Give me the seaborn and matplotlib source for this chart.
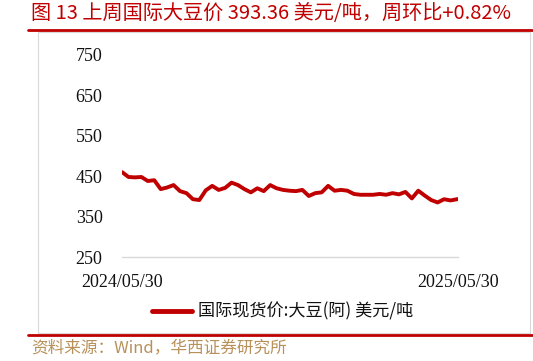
import numpy as np
import pandas as pd
import seaborn as sns
import matplotlib.pyplot as plt
from matplotlib.lines import Line2D
from matplotlib.patches import Rectangle

# weekly readings, 2024/05/30 -> 2025/05/30 (USD/t)
dates = pd.date_range("2024-05-30", periods=53, freq="7D")
prices = [460, 448, 447, 448, 438, 440, 418, 422, 428, 413,
          408, 393, 391, 415, 426, 416, 421, 434, 428, 418,
          410, 420, 413, 428, 420, 416, 414, 413, 416, 401,
          408, 410, 426, 414, 416, 414, 406, 404, 404, 404,
          406, 404, 408, 405, 411, 395, 414, 402, 391, 385,
          393, 390, 393.36]
dates = dates[:-1].append(pd.DatetimeIndex([pd.Timestamp("2025-05-30")]))
yticks = [250, 350, 450, 550, 650, 750]
series_name = "国际现货价:大豆(阿) 美元/吨"
title = "图 13 上周国际大豆价 393.36 美元/吨，周环比+0.82%"
source = "资料来源：Wind，华西证券研究所"

df = pd.DataFrame({"date": dates, "price": prices})

sns.set_theme(style="white")
plt.rcParams["font.family"] = ["Noto Sans CJK SC", "DejaVu Sans"]

red = "#C00000"
fig = plt.figure(figsize=(5.33, 3.61), dpi=100)
ax = fig.add_axes([0.229, 0.288, 0.630, 0.560])

sns.lineplot(data=df, x="date", y="price", color=red, linewidth=2.8, ax=ax)

ax.set_ylim(250, 750)
ax.set_yticks(yticks)
ax.set_xlim(df["date"].iloc[0], df["date"].iloc[-1])
ax.set_xticks([df["date"].iloc[0], df["date"].iloc[-1]])
ax.set_xticklabels(["2024/05/30", "2025/05/30"])
for lab in ax.get_xticklabels() + ax.get_yticklabels():
    lab.set_family("Liberation Serif")
    lab.set_fontsize(13)
    lab.set_color("#111111")
ax.tick_params(axis="y", length=0, pad=14)
ax.tick_params(axis="x", length=0, pad=12)
ax.set_xlabel("")
ax.set_ylabel("")
for s in ["top", "right", "left"]:
    ax.spines[s].set_visible(False)
ax.spines["bottom"].set_color("#d9d9d9")
ax.spines["bottom"].set_linewidth(1)

# frame, rules, texts
fig.patches.append(Rectangle((38 / 533, 1 - 333 / 361), (530 - 38) / 533, (333 - 32) / 361,
                             transform=fig.transFigure, fill=False, edgecolor="#d9d9d9", lw=0.8))
fig.add_artist(Line2D([28 / 533, 1], [1 - 30 / 361] * 2, color=red, lw=2))
fig.add_artist(Line2D([28 / 533, 1], [1 - 335 / 361] * 2, color=red, lw=2))
fig.text(31 / 533, 1 - 13 / 361, title, color=red, fontsize=14.5, va="center", ha="left")
fig.text(31 / 533, 1 - 348 / 361, source, color="#B8915A", fontsize=12, va="center", ha="left")

fig.add_artist(Line2D([152 / 533, 192 / 533], [1 - 311 / 361] * 2, color=red, lw=3.5,
                      solid_capstyle="round"))
fig.text(198 / 533, 1 - 311 / 361, series_name, color="#111111", fontsize=12.3, va="center", ha="left")

fig.savefig("out.png", dpi=100)
